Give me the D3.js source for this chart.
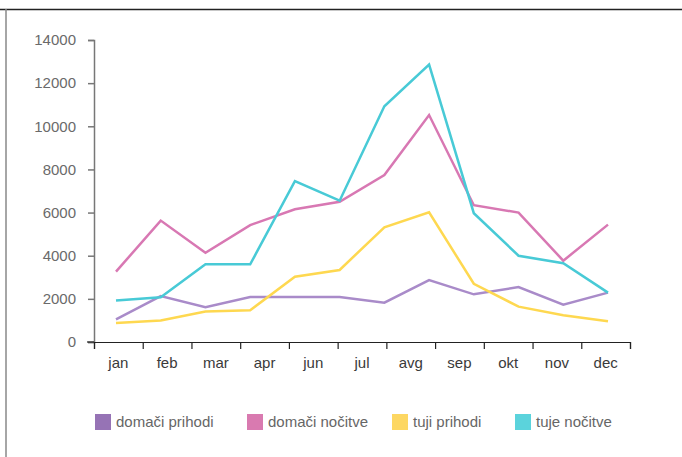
<!DOCTYPE html>
<html>
<head>
<meta charset="utf-8">
<script src="https://cdn.jsdelivr.net/npm/d3@7"></script>
<style>
  body { margin: 0; background: #fff; }
  svg text { font-family: "Liberation Sans", Arial, sans-serif; }
</style>
</head>
<body>
<svg width="682" height="457"></svg>
<script>
// axis labels (the original shows 11 month labels for 12 data points)
const months = ["jan", "feb", "mar", "apr", "jun", "jul", "avg", "sep", "okt", "nov", "dec"];
const yTicks = [0, 2000, 4000, 6000, 8000, 10000, 12000, 14000];

const seriesNames = ["domači prihodi", "domači nočitve", "tuji prihodi", "tuje nočitve"];
const colors = ["#9673b5", "#d97ab0", "#fdd762", "#5bd3dc"];
const lineColors = ["#a98bc9", "#d878b3", "#fed850", "#48cad6"];

const domaciPrihodi = [1050, 2130, 1610, 2090, 2090, 2090, 1820, 2870, 2210, 2550, 1730, 2290];
const domaciNocitve = [3260, 5630, 4140, 5420, 6150, 6500, 7740, 10520, 6340, 6000, 3770, 5440];
const tujiPrihodi   = [880, 1000, 1410, 1470, 3030, 3340, 5320, 6010, 2700, 1640, 1240, 960];
const tujeNocitve   = [1920, 2070, 3600, 3600, 7460, 6550, 10930, 12860, 5970, 4000, 3650, 2290];

const allSeries = [domaciPrihodi, domaciNocitve, tujiPrihodi, tujeNocitve];

const svg = d3.select("svg");

// frame
svg.append("line").attr("x1", 0).attr("x2", 682).attr("y1", 9.5).attr("y2", 9.5)
   .attr("stroke", "#222").attr("stroke-width", 1.5);
svg.append("line").attr("x1", 6).attr("x2", 6).attr("y1", 9).attr("y2", 457)
   .attr("stroke", "#888").attr("stroke-width", 1.5);

const y = d3.scaleLinear().domain([0, 14000]).range([342, 40]);
const xTick = d3.scaleLinear().domain([0, months.length]).range([94, 630]);
const xBand = d3.scaleBand().domain(months).range([94, 630]);
const xPt = d3.scalePoint().domain(d3.range(domaciPrihodi.length)).range([116, 608]);

// y axis
const yAxis = svg.append("g")
  .attr("transform", "translate(94,0)")
  .call(d3.axisLeft(y).tickValues(yTicks).tickSize(6).tickPadding(12).tickFormat(d3.format("d")));
yAxis.selectAll("path, line").attr("stroke", "#777").attr("stroke-width", 1.5);
yAxis.selectAll("text").attr("fill", "#6a6a6a").style("font-size", "15px");

// lines
const line = d3.line().x((d, i) => xPt(i)).y(d => y(d));
svg.append("g").selectAll("path")
  .data(allSeries)
  .enter()
  .append("path")
  .attr("d", d => line(d))
  .attr("fill", "none")
  .attr("stroke", (d, i) => lineColors[i])
  .attr("stroke-width", 2.5);

// x axis ticks at band edges
const xAxis = svg.append("g")
  .attr("transform", "translate(0,342)")
  .call(d3.axisBottom(xTick).ticks(months.length).tickFormat("").tickSize(7).tickSizeOuter(7));
xAxis.selectAll("path, line").attr("stroke", "#222").attr("stroke-width", 1.2);
svg.append("line").attr("x1", 87).attr("x2", 94).attr("y1", 342).attr("y2", 342)
   .attr("stroke", "#222").attr("stroke-width", 1.2);

// x labels centered in bands
const xLabels = svg.append("g")
  .attr("transform", "translate(0,342)")
  .call(d3.axisBottom(xBand).tickSize(0).tickPadding(15));
xLabels.select(".domain").remove();
xLabels.selectAll("text").attr("fill", "#3a3a3a").style("font-size", "15px");

// legend
const legendX = [95, 247, 392, 515];
const legend = svg.append("g").selectAll("g")
  .data(seriesNames)
  .enter()
  .append("g")
  .attr("transform", (d, i) => `translate(${legendX[i]}, 414)`);
legend.append("rect").attr("width", 16).attr("height", 16).attr("fill", (d, i) => colors[i]);
legend.append("text")
  .attr("x", 21).attr("y", 13)
  .attr("fill", "#666")
  .style("font-size", "15px")
  .text(d => d);
</script>
</body>
</html>
